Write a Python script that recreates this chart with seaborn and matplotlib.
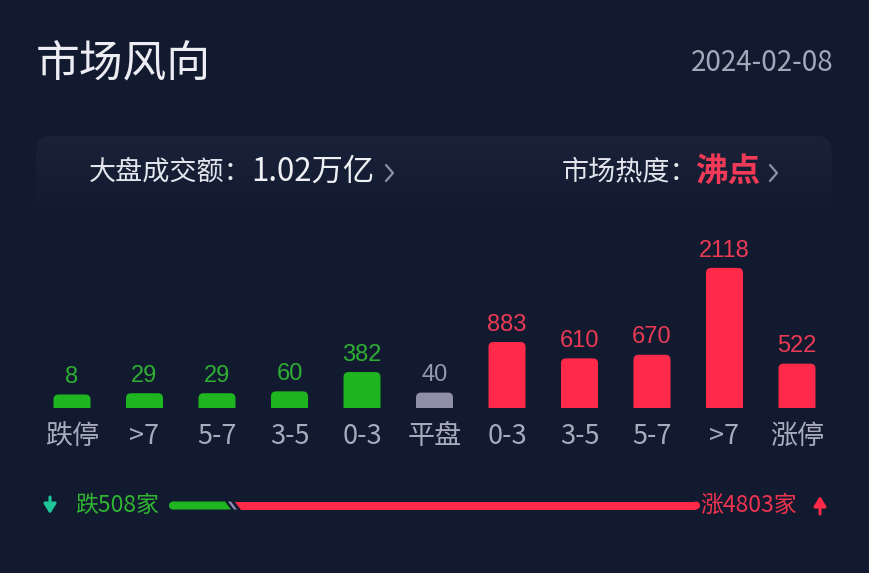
import numpy as np
import pandas as pd
import matplotlib
matplotlib.use("Agg")
import matplotlib.pyplot as plt
import seaborn as sns
from matplotlib.patches import FancyBboxPatch, Polygon, Circle

# ---------------- data ----------------
categories = ["跌停", ">7", "5-7", "3-5", "0-3", "平盘", "0-3", "3-5", "5-7", ">7", "涨停"]
counts = [8, 29, 29, 60, 382, 40, 883, 610, 670, 2118, 522]
groups = ["down", "down", "down", "down", "down", "flat", "up", "up", "up", "up", "up"]
title_text = "市场风向"
date_text = "2024-02-08"
turnover_label = "大盘成交额："
turnover_value = "1.02万亿"
heat_label = "市场热度："
heat_value = "沸点"
down_total = 508
up_total = 4803

# ---------------- style ----------------
BG = "#121a30"
PANEL = "#1a2239"
GREEN = "#1fb520"
RED = "#ff2a4a"
GRAY = "#8f90a8"
LBL_GREEN = "#2fae33"
LBL_RED = "#ec3a55"
LBL_GRAY = "#9698ad"
TICK = "#a7abbd"
CJK = ["Noto Sans CJK SC", "DejaVu Sans"]
NUM = ["Liberation Sans", "DejaVu Sans"]

sns.set_theme(style="white")
plt.rcParams["font.family"] = CJK

W, H = 869, 573
fig = plt.figure(figsize=(W / 100, H / 100), dpi=100, facecolor=BG)

# overlay in pixel coordinates
ov = fig.add_axes([0, 0, 1, 1], zorder=0)
ov.set_xlim(0, W)
ov.set_ylim(H, 0)
ov.axis("off")
ov.set_facecolor(BG)

# info panel with fade
panel = FancyBboxPatch((36, 136), 796, 110, boxstyle="round,pad=0,rounding_size=16",
                       fc="none", ec="none")
ov.add_patch(panel)
grad = np.zeros((100, 2, 4))
rgb = matplotlib.colors.to_rgb(PANEL)
grad[..., 0], grad[..., 1], grad[..., 2] = rgb
grad[..., 3] = np.clip(np.linspace(1.0, -0.3, 100), 0, 1)[:, None]
im = ov.imshow(grad, extent=(36, 832, 246, 136), aspect="auto", interpolation="bilinear", zorder=1)
im.set_clip_path(panel)

# title and date
ov.text(36, 65, title_text, fontsize=31.5, color="#eceef3", ha="left", va="center",
        fontweight="medium")
ov.text(833, 63, date_text, fontsize=20, color="#a3a7ba", ha="right", va="center")

# info texts
ov.text(89, 172, turnover_label, fontsize=19.5, color="#e2e5ec", ha="left", va="center")
ov.text(251, 172, turnover_value, fontsize=22.5, color="#eef0f4", ha="left", va="center",
        fontweight="medium")
ov.plot([386, 393, 386], [165, 173, 181], color="#8e92a6", lw=1.6, solid_capstyle="round")
ov.text(562, 172, heat_label, fontsize=19.5, color="#e2e5ec", ha="left", va="center")
ov.text(695, 171, heat_value, fontsize=23.5, color="#f03a57", ha="left", va="center",
        fontweight="bold")
ov.plot([770, 777, 770], [165, 173, 181], color="#8e92a6", lw=1.6, solid_capstyle="round")

# ---------------- bar chart ----------------
MIN_BAR = 217          # minimum visible bar height (value units)
PX_PER_UNIT = 0.06
SPACING = 72.5
FIRST_X = 72
BASE_Y = 408
TOP_Y = 230

df = pd.DataFrame({"pos": list(range(len(categories))), "label": categories,
                   "count": counts, "group": groups})
df["shown"] = df["count"] + MIN_BAR

ax = fig.add_axes([0, (H - BASE_Y) / H, 1, (BASE_Y - TOP_Y) / H], zorder=2)
ax.patch.set_alpha(0)
palette = {"down": GREEN, "flat": GRAY, "up": RED}
sns.barplot(data=df, x="pos", y="shown", hue="group", palette=palette, width=37 / SPACING,
            legend=False, ax=ax, saturation=1, edgecolor="none", linewidth=0)
ax.set_xlim(-FIRST_X / SPACING, (W - FIRST_X) / SPACING)
ax.set_ylim(0, (BASE_Y - TOP_Y) / PX_PER_UNIT)

# rounded top corners
rx = 5 / SPACING
ry = 5 / PX_PER_UNIT
for p in list(ax.patches):
    x, y, w, h = p.get_x(), p.get_y(), p.get_width(), p.get_height()
    fc = p.get_facecolor()
    p.remove()
    ax.add_patch(FancyBboxPatch((x, y - ry), w, h + ry,
                                boxstyle=f"round,pad=0,rounding_size={rx}",
                                mutation_aspect=ry / rx, fc=fc, ec="none"))

lbl_colors = {"down": LBL_GREEN, "flat": LBL_GRAY, "up": LBL_RED}
for _, r in df.iterrows():
    ax.annotate(f"{r['count']}", (r["pos"], r["shown"]), xytext=(0, 8.2),
                textcoords="offset points", ha="center", va="baseline",
                fontsize=17, color=lbl_colors[r["group"]], family=NUM,
                annotation_clip=False)

ax.set_xticks(df["pos"])
ax.set_xticklabels(df["label"], fontsize=19.5, color=TICK, fontweight="medium")
ax.tick_params(axis="x", length=0, pad=10.5)
ax.set_yticks([])
ax.set_xlabel("")
ax.set_ylabel("")
for s in ax.spines.values():
    s.set_visible(False)

# ---------------- up/down progress bar ----------------
x0, x1 = 169, 700
top, bot = 501.5, 509.5
yc = (top + bot) / 2
rad = (bot - top) / 2
gap = 10
min_seg = 15
avail = (x1 - x0) - gap
green_px = min_seg + (avail - 2 * min_seg) * down_total / (down_total + up_total)
slant = 6
gx = x0 + green_px - slant  # top-right x of green
ov.add_patch(Circle((x0 + rad, yc), rad, fc=GREEN, ec="none"))
ov.add_patch(Polygon([(x0 + rad, top), (gx, top), (gx + slant, bot), (x0 + rad, bot)],
                     closed=True, fc=GREEN, ec="none"))
ov.add_patch(Polygon([(gx + 3, top), (gx + 6, top), (gx + 6 + slant, bot), (gx + 3 + slant, bot)],
                     closed=True, fc="#8c8ab0", ec="none"))
rx0 = gx + gap
ov.add_patch(Polygon([(rx0, top), (x1 - rad, top), (x1 - rad, bot), (rx0 + slant, bot)],
                     closed=True, fc=RED, ec="none"))
ov.add_patch(Circle((x1 - rad, yc), rad, fc=RED, ec="none"))

ov.text(75, 505, f"跌{down_total}家", fontsize=16.5, color="#2fb532", ha="left", va="center")
ov.text(700, 505, f"涨{up_total}家", fontsize=16.5, color="#f0334f", ha="left", va="center")
ov.annotate("", xy=(50, 514), xytext=(50, 497),
            arrowprops=dict(arrowstyle="-|>,head_length=0.45,head_width=0.28",
                            color="#1ec69a", lw=2.2, mutation_scale=13,
                            shrinkA=0, shrinkB=0))
ov.annotate("", xy=(820, 496), xytext=(820, 514),
            arrowprops=dict(arrowstyle="-|>,head_length=0.45,head_width=0.28",
                            color="#ff2a4a", lw=2.2, mutation_scale=13,
                            shrinkA=0, shrinkB=0))

fig.savefig("out.png", dpi=100, facecolor=BG)
